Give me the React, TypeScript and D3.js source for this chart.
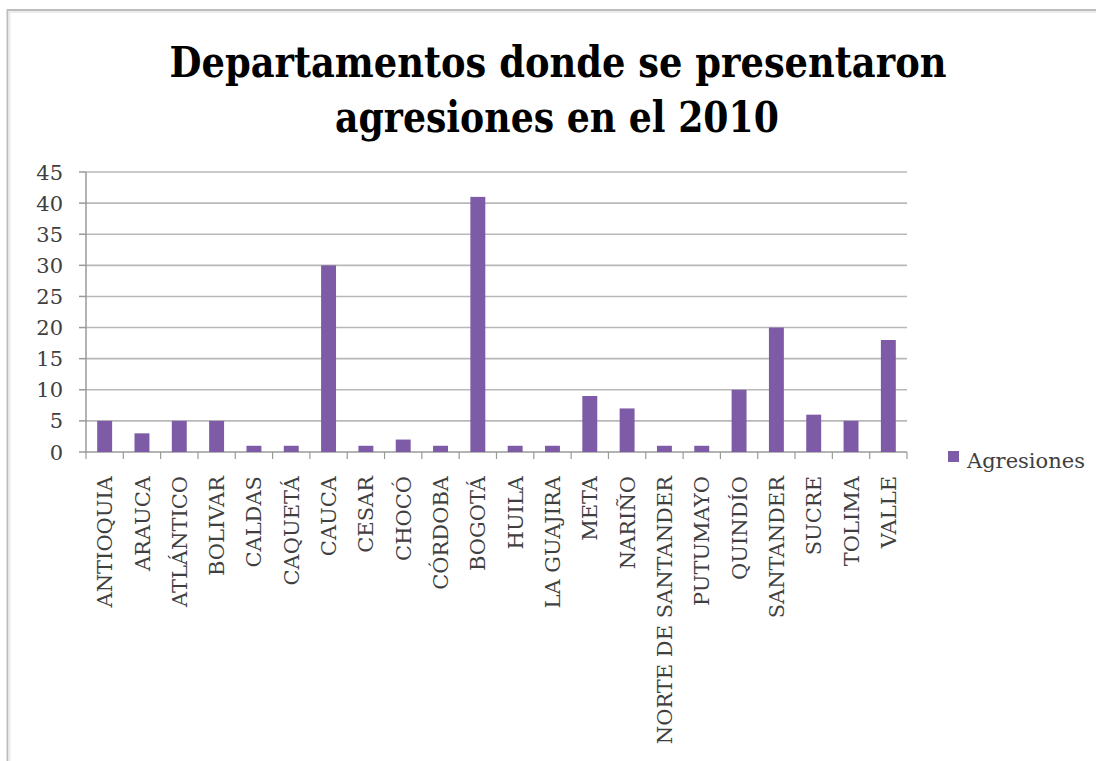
import React from "react";
import * as d3 from "d3";

const categories = [
  "ANTIOQUIA", "ARAUCA", "ATLÁNTICO", "BOLIVAR", "CALDAS", "CAQUETÁ", "CAUCA",
  "CESAR", "CHOCÓ", "CÓRDOBA", "BOGOTÁ", "HUILA", "LA GUAJIRA", "META", "NARIÑO",
  "NORTE DE SANTANDER", "PUTUMAYO", "QUINDÍO", "SANTANDER", "SUCRE", "TOLIMA", "VALLE",
];
const agresiones = [5, 3, 5, 5, 1, 1, 30, 1, 2, 1, 41, 1, 1, 9, 7, 1, 1, 10, 20, 6, 5, 18];
const yTicks = [0, 5, 10, 15, 20, 25, 30, 35, 40, 45];
const titleLines = ["Departamentos donde se presentaron", "agresiones en el 2010"];
const seriesName = "Agresiones";

const W = 1096;
const H = 761;
const plotLeft = 86;
const plotRight = 907;
const plotTop = 172;
const plotBottom = 452;
const barColor = "#7D5BA6";
const textColor = "#404040";
const serif = "'DejaVu Serif', 'Liberation Serif', serif";

export default function App() {
  const x = d3
    .scaleBand<string>()
    .domain(categories)
    .range([plotLeft, plotRight])
    .paddingInner(0.6)
    .paddingOuter(0.3);
  const xEdges = d3.scaleBand<string>().domain(categories).range([plotLeft, plotRight]).padding(0);
  const y = d3.scaleLinear().domain([0, 45]).range([plotBottom, plotTop]);
  const data = categories.map((c, i) => ({ c, v: agresiones[i] }));

  return (
    <svg
      width={W}
      height={H}
      style={{ position: "absolute", left: 0, top: 0, background: "#fff" }}
    >
      <rect x={0} y={0} width={W} height={H} fill="#fff" />
      {/* frame */}
      <rect x={7.5} y={10} width={W + 20} height={H + 20} fill="none" stroke="#bdbdbd" strokeWidth={2} />
      <rect x={9.5} y={12} width={W + 20} height={H + 20} fill="none" stroke="#ececec" strokeWidth={2} />

      {/* title */}
      <text
        x={558}
        y={77}
        textAnchor="middle"
        fontFamily={serif}
        fontWeight="bold"
        fontSize={42}
        fill="#000"
        textLength={777}
        lengthAdjust="spacingAndGlyphs"
      >
        {titleLines[0]}
      </text>
      <text
        x={557}
        y={132}
        textAnchor="middle"
        fontFamily={serif}
        fontWeight="bold"
        fontSize={42}
        fill="#000"
        textLength={444}
        lengthAdjust="spacingAndGlyphs"
      >
        {titleLines[1]}
      </text>

      {/* gridlines */}
      {yTicks.map((t) => (
        <line
          key={"g" + t}
          x1={plotLeft}
          x2={plotRight}
          y1={y(t)}
          y2={y(t)}
          stroke={t === 0 ? "#9a9a9a" : "#b8b8b8"}
          strokeWidth={1.6}
        />
      ))}
      {/* y axis */}
      <line x1={plotLeft} x2={plotLeft} y1={plotTop} y2={plotBottom} stroke="#9a9a9a" strokeWidth={1.5} />
      {yTicks.map((t) => (
        <g key={"yt" + t}>
          <line x1={plotLeft - 7} x2={plotLeft} y1={y(t)} y2={y(t)} stroke="#9a9a9a" strokeWidth={1.5} />
          <text
            x={63}
            y={y(t)}
            dy="0.36em"
            textAnchor="end"
            fontFamily={serif}
            fontSize={21}
            fill={textColor}
          >
            {t}
          </text>
        </g>
      ))}
      {/* x ticks */}
      {categories.map((c) => (
        <line
          key={"xt" + c}
          x1={(xEdges(c) as number) + xEdges.bandwidth()}
          x2={(xEdges(c) as number) + xEdges.bandwidth()}
          y1={plotBottom}
          y2={plotBottom + 7}
          stroke="#9a9a9a"
          strokeWidth={1.2}
        />
      ))}
      <line x1={plotLeft} x2={plotLeft} y1={plotBottom} y2={plotBottom + 7} stroke="#9a9a9a" strokeWidth={1.2} />

      {/* bars */}
      {data.map((d) => (
        <rect
          key={"b" + d.c}
          x={x(d.c)}
          y={y(d.v)}
          width={x.bandwidth()}
          height={y(0) - y(d.v)}
          fill={barColor}
        />
      ))}

      {/* x labels */}
      {categories.map((c) => {
        const cx = (x(c) as number) + x.bandwidth() / 2;
        return (
          <text
            key={"xl" + c}
            transform={`translate(${cx},476) rotate(-90)`}
            textAnchor="end"
            dy="0.36em"
            fontFamily={serif}
            fontSize={21}
            fill={textColor}
          >
            {c}
          </text>
        );
      })}

      {/* legend */}
      <rect x={948} y={451} width={11} height={11} fill={barColor} />
      <text x={967} y={468} fontFamily={serif} fontSize={21} fill={textColor}>
        {seriesName}
      </text>
    </svg>
  );
}
